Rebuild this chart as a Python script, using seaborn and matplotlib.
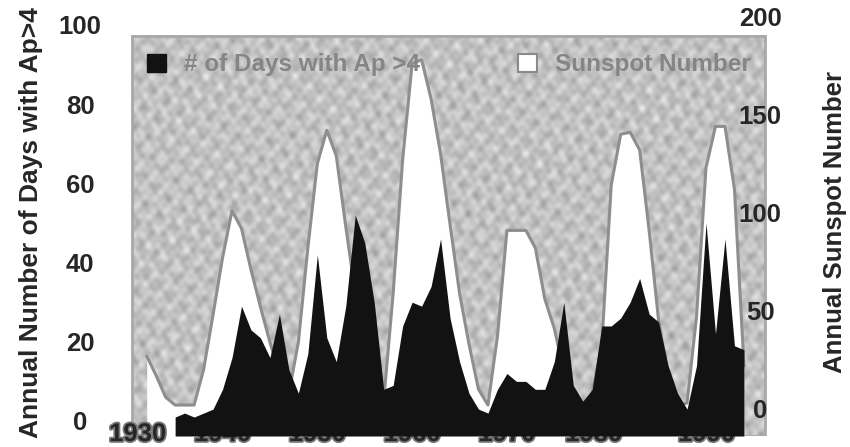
import numpy as np
import seaborn as sns
import matplotlib.pyplot as plt
import matplotlib.patheffects as pe
from matplotlib.patches import Patch, Rectangle
from matplotlib.transforms import ScaledTranslation

# values (years as placed by the printed axis)
years = list(range(1932, 1996))
sunspot = [27, 17, 6, 2, 2, 2, 20, 48, 77, 101, 92, 71, 52, 34, 18, 8,
           34, 82, 125, 142, 129, 93, 59, 27, 5, 4, 59, 127, 176, 178, 158, 130,
           94, 59, 33, 10, 2, 37, 91, 91, 91, 82, 56, 41, 19, 5, 2, 8,
           32, 114, 140, 141, 132, 91, 45, 17, 2, 3, 47, 123, 144, 144, 112, 22]

ap_years = list(range(1935, 1996))
ap_days = [1, 2, 1, 2, 3, 8, 16, 29, 23, 21, 16, 27, 13, 7, 17, 42,
           21, 15, 29, 52, 45, 30, 8, 9, 24, 30, 29, 34, 46, 26, 15, 7,
           3, 2, 8, 12, 10, 10, 8, 8, 15, 30, 9, 5, 8, 24, 24, 26, 30, 36,
           27, 25, 14, 7, 3, 14, 50, 22, 46, 19, 18]

x_ticks = [1930, 1940, 1950, 1960, 1970, 1980, 1990]
ap_ticks = [0, 20, 40, 60, 80, 100]
ss_ticks = [0, 50, 100, 150, 200]

sns.set_theme(style="white")
plt.rcParams['font.family'] = ['Liberation Sans', 'DejaVu Sans']

W, H = 850, 447
fig = plt.figure(figsize=(W / 100, H / 100), dpi=100)
px_l, px_r, px_t, px_b = 110, 770, 12, 436
ax = fig.add_axes([px_l / W, 1 - px_b / H, (px_r - px_l) / W, (px_b - px_t) / H])
ax2 = ax.twinx()

xlim = (1928.13, 1997.75)
ss_lim = ((409 - px_b) / 1.9625, (409 - px_t) / 1.9625)
ap_lim = ((421 - px_b) / 3.96, (421 - px_t) / 3.96)

# mottled grey frame of the original
gx, gy = np.meshgrid(np.arange(400), np.arange(250))
tex = (np.sin(0.55 * gx + 0.30 * gy) + np.sin(0.42 * gy - 0.35 * gx + 1.3)
       + 0.7 * np.sin(0.90 * gx + 0.80 * gy + 2.1) + 0.6 * np.sin(1.10 * gx - 0.70 * gy + 0.4)
       + 0.8 * np.sin(0.23 * gx + 0.61 * gy + 0.7) + 0.7 * np.sin(0.77 * gx - 0.21 * gy + 2.9)
       + 0.9 * np.sin(0.31 * gx + 0.47 * gy) * np.sin(0.50 * gx - 0.60 * gy))
fx0, fx1, fy1 = 1930.45, 1997.25, 190.1
ax.imshow(tex, cmap='gray', vmin=-24.0, vmax=7.5, extent=(fx0, fx1, ss_lim[0], fy1),
          aspect='auto', interpolation='bicubic', zorder=0)
ax.add_patch(Rectangle((fx0, ss_lim[0]), fx1 - fx0, fy1 - ss_lim[0], fill=False,
                       edgecolor='#a8a8a8', lw=2, zorder=0.5))

# sunspot number: white area with grey outline (right axis)
ax.fill_between(years, ss_lim[0], sunspot, color='white', lw=0, zorder=1)
sns.lineplot(x=years, y=sunspot, ax=ax, color='#8e8e8e', lw=2.2, zorder=2)

# days with Ap>4: black area (left axis)
ax2.fill_between(ap_years, ap_lim[0], ap_days, color='#121212', lw=0)

ax.set_xlim(*xlim)
ax.set_ylim(*ss_lim)
ax2.set_ylim(*ap_lim)
ax.patch.set_visible(False)
for a in (ax, ax2):
    for s in a.spines.values():
        s.set_visible(False)

# year labels sit on top of the black area, as in the scan
ax.xaxis.set_visible(False)
ax2.xaxis.set_visible(True)
ax2.set_xticks(x_ticks)
ax2.set_xticklabels([str(v) for v in x_ticks], fontsize=18.5, fontweight='bold',
                    path_effects=[pe.withStroke(linewidth=2.5, foreground='#7a7a7a')])
ax2.tick_params(axis='x', length=0, pad=-10)
# the pasted-in year labels are not evenly spaced in the scan
nudge = {'1930': 10, '1980': -8, '1990': 10}
for lbl in ax2.get_xticklabels():
    dx = nudge.get(lbl.get_text(), 0)
    if dx:
        lbl.set_transform(lbl.get_transform() + ScaledTranslation(dx / 100, 0, fig.dpi_scale_trans))

ax.yaxis.tick_right()
ax.set_yticks(ss_ticks)
ax.set_yticklabels([str(v) for v in ss_ticks], fontsize=18.5, fontweight='bold')
ax.tick_params(axis='y', length=0, pad=-7)
plt.setp(ax.get_yticklabels(), ha='center')

ax2.yaxis.tick_left()
ax2.set_yticks(ap_ticks)
ax2.set_yticklabels([str(v) for v in ap_ticks], fontsize=18.5, fontweight='bold')
ax2.tick_params(axis='y', length=0, pad=21.6)
plt.setp(ax2.get_yticklabels(), ha='center')

ax2.yaxis.set_label_position('left')
ax2.set_ylabel('Annual Number of Days with Ap>4', fontsize=19, fontweight='bold')
ax2.yaxis.label.set_va('center')
ax2.yaxis.set_label_coords((31 - px_l) / (px_r - px_l), (px_b - 223) / (px_b - px_t))
ax.yaxis.set_label_position('right')
ax.set_ylabel('Annual Sunspot Number', fontsize=18.5, fontweight='bold')
ax.yaxis.label.set_va('center')
ax.yaxis.set_label_coords((835 - px_l) / (px_r - px_l), (px_b - 222) / (px_b - px_t))

fxa = lambda p: (p - px_l) / (px_r - px_l)
fya = lambda p: (px_b - p) / (px_b - px_t)
leg_kw = dict(loc='center left', frameon=False, borderpad=0, borderaxespad=0,
              handlelength=0.78, handleheight=0.78, handletextpad=0.75,
              prop={'size': 17.5, 'weight': 'bold'}, labelcolor='#858585')
leg1 = ax2.legend(handles=[Patch(facecolor='#121212', edgecolor='#121212')],
                  labels=['# of Days with Ap >4'], bbox_to_anchor=(fxa(147), fya(65)), **leg_kw)
ax2.add_artist(leg1)
ax2.legend(handles=[Patch(facecolor='white', edgecolor='#8a8a8a', lw=1.5)],
           labels=['Sunspot Number'], bbox_to_anchor=(fxa(518), fya(65)), **leg_kw)

fig.savefig('out.png', dpi=100)
